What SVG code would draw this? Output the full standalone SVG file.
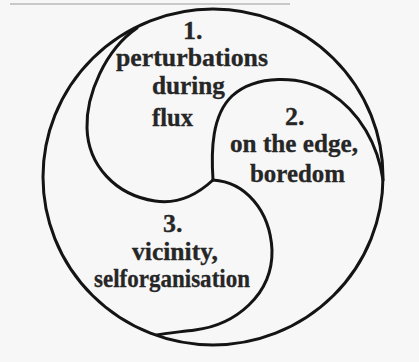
<svg xmlns="http://www.w3.org/2000/svg" width="419" height="362" viewBox="0 0 419 362">
<style>
.ln{fill:none;stroke:#141414;stroke-width:3;stroke-linecap:round;stroke-linejoin:round}
.t{font-family:"Liberation Serif","Times New Roman",serif;font-weight:bold;font-size:26px;fill:#262626;stroke:#262626;stroke-width:0.3}
</style>
<rect x="0" y="0" width="419" height="362" fill="#f7f7f7"/>
<line x1="10" y1="4" x2="290" y2="4" stroke="#9a9a9a" stroke-width="1"/>
<g id="connectors">
<ellipse class="ln" cx="213" cy="177" rx="170" ry="168"/>
<path class="ln" d="M137,28 C105,50 86,95 87,128 C88,165 115,195 155,201 C180,205 200,192 213,180"/>
<path class="ln" d="M213,180 C211,150 212,115 232,96 C255,75 300,74 330,93 C360,112 378,145 383,180"/>
<path class="ln" d="M213,180 C245,182 270,210 272,250 C273,295 235,325 195,330 C180,332 165,333 157,335"/>
</g>
<g id="node1">
<text class="t" x="183" y="39">1.</text>
<text class="t" x="116" y="66" textLength="152" lengthAdjust="spacingAndGlyphs">perturbations</text>
<text class="t" x="152" y="94" textLength="73" lengthAdjust="spacingAndGlyphs">during</text>
<text class="t" x="152" y="126" textLength="41" lengthAdjust="spacingAndGlyphs">flux</text>
</g>
<g id="node2">
<text class="t" x="285" y="125">2.</text>
<text class="t" x="230" y="152" textLength="128" lengthAdjust="spacingAndGlyphs">on the edge,</text>
<text class="t" x="250" y="182" textLength="95" lengthAdjust="spacingAndGlyphs">boredom</text>
</g>
<g id="node3">
<text class="t" x="163" y="232">3.</text>
<text class="t" x="132" y="260" textLength="86" lengthAdjust="spacingAndGlyphs">vicinity,</text>
<text class="t" x="94" y="287" textLength="156" lengthAdjust="spacingAndGlyphs">selforganisation</text>
</g>
</svg>
